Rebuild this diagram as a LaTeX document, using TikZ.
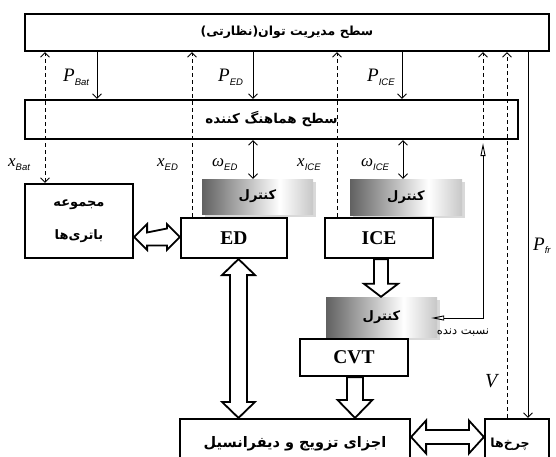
\documentclass[tikz,border=0pt]{standalone}
\usepackage{fontspec}
\setmainfont{Liberation Serif}
\newfontfamily\arabicfont[Script=Arabic]{DejaVu Sans}
\newfontfamily\subsans{Liberation Sans}
\TeXXeTstate=1
\usetikzlibrary{arrows.meta,shadows,calc}
\pgfdeclarehorizontalshading{ctrlshade}{100bp}{color(0bp)=(black!62); color(25bp)=(black!62); color(42bp)=(black!32); color(60bp)=(white); color(75bp)=(black!22); color(100bp)=(black!22)}
\newcommand{\fab}[2][12.5]{{\arabicfont\bfseries\fontsize{#1}{#1}\selectfont\beginR #2\endR}}
\newcommand{\fan}[2][11.5]{{\arabicfont\fontsize{#1}{#1}\selectfont\beginR #2\endR}}
\newcommand{\sym}[3][19]{{\fontsize{#1}{#1}\selectfont\itshape #2}{\subsans\itshape\fontsize{9.5}{9.5}\selectfont\raisebox{-0.4em}{#3}}}
\tikzset{
  box/.style={draw, line width=2.2pt, fill=white, inner sep=0pt},
  ctrl/.style={shade, shading=ctrlshade, drop shadow={shadow xshift=2.5pt, shadow yshift=-2.5pt, opacity=0.3}, inner sep=0pt},
  thinline/.style={line width=0.9pt},
  dsh/.style={line width=0.9pt, dash pattern=on 4pt off 3pt},
  blk/.style={draw, line width=1.8pt, fill=white, line join=miter},
  lab/.style={inner sep=0pt, anchor=base west},
  bigtxt/.style={font=\bfseries\fontsize{19.5}{19.5}\selectfont},
  otri/.style={line width=0.9pt, {Triangle[open,length=13pt,width=5pt]}-{Triangle[open,length=13pt,width=5pt]}}
}
\begin{document}
\begin{tikzpicture}[x=1pt,y=-1pt, >={Straight Barb[length=4.5pt,width=9pt]}]
\useasboundingbox (0,0) rectangle (556,457);
\begin{scope}
\clip (0,0) rectangle (556,457);
% main boxes
\node[box, minimum width=524pt, minimum height=37pt] (top) at (287,32.5) {\fab[12.5]{سطح مدیریت توان(نظارتی)}};
\node[box, minimum width=493pt, minimum height=39pt] (coord) at (271.5,119.5) {\fab[13.5]{سطح هماهنگ کننده}};
% controllers
\node[ctrl, minimum width=111pt, minimum height=35pt] (cED) at (257.5,196.5) {\raisebox{-3pt}{\fab[13]{کنترل}}};
\node[ctrl, minimum width=112pt, minimum height=36pt] (cICE) at (406,197) {\raisebox{-3pt}{\fab[13]{کنترل}}};
\node[ctrl, minimum width=111pt, minimum height=40pt] (cCVT) at (381.5,317) {\fab[13]{کنترل}};
% component boxes
\node[box, minimum width=108pt, minimum height=74pt, align=center, font=\fontsize{13}{14}\selectfont] (bat) at (79,221) {\fab[13]{مجموعه}\\[19pt]\fab[13]{باتری‌ها}};
\node[box, minimum width=106pt, minimum height=40pt, bigtxt] (ed) at (234,238) {ED};
\node[box, minimum width=108pt, minimum height=40pt, bigtxt] (ice) at (379,238) {ICE};
\node[box, minimum width=108pt, minimum height=37pt, bigtxt] (cvt) at (354,357.5) {CVT};
\node[box, minimum width=230pt, minimum height=50pt] (dist) at (295,444) {\fab[14.5]{اجزای تزویج و دیفرانسیل}};
\node[box, minimum width=64pt, minimum height=50pt] (wheels) at (517,444) {\hspace*{-14pt}\fab[12.5]{چرخ‌ها}};
% dashed feedback lines
\draw[dsh, <->] (45,0 |- bat.north) -- (45,0 |- top.south);
\draw[dsh, ->] (192,0 |- ed.north) -- (192,0 |- top.south);
\draw[dsh, ->] (337,0 |- ice.north) -- (337,0 |- top.south);
\draw[dsh, ->] (483,0 |- coord.south) -- (483,0 |- top.south);
\draw[dsh, ->] (507,0 |- wheels.north) -- (507,0 |- top.south);
% power commands
\draw[thinline, ->] (97,0 |- top.south) -- (97,0 |- coord.north);
\draw[thinline, ->] (253,0 |- top.south) -- (253,0 |- coord.north);
\draw[thinline, ->] (402,0 |- top.south) -- (402,0 |- coord.north);
\draw[thinline, ->] (528,0 |- top.south) -- (528,0 |- wheels.north);
% speed commands
\draw[thinline, <->] (253,0 |- coord.south) -- (253,0 |- cED.north);
\draw[thinline, <->] (403,0 |- coord.south) -- (403,0 |- cICE.north);
% gear ratio
\coordinate (gtop) at ($(483,0 |- coord.south)+(0,3)$);
\draw[otri] ($(cCVT.east)+(-6,1)$) -| (gtop);
% block arrows
\draw[blk] let \p1=(bat.east), \p2=(ed.west) in
  (\x1,237) -- ++(13,-13) -- ++(0,8.5) -- (\x2-13,228.5) -- ++(0,-4.5) -- (\x2,237) -- (\x2-13,250) -- ++(0,-4.5) -- (\x1+13,245.5) -- ++(0,4.5) -- cycle;
\draw[blk] let \p1=(dist.east), \p2=(wheels.west) in
  (\x1,437) -- (\x1+15,420.5) -- (\x1+15,430) -- (\x2-15,430) -- (\x2-15,420.5) -- (\x2,437) -- (\x2-15,453.5) -- (\x2-15,444) -- (\x1+15,444) -- (\x1+15,453.5) -- cycle;
\draw[blk] let \p1=(ed.south), \p2=(dist.north) in
  (238.5,\y1) -- (222,\y1-16) -- (230,\y1-16) -- (230,\y2+16) -- (222,\y2+16) -- (238.5,\y2) -- (255,\y2+16) -- (247,\y2+16) -- (247,\y1-16) -- (255,\y1-16) -- cycle;
\draw[blk] let \p1=(ice.south), \p2=(cCVT.north) in
  (374,\y1) -- (374,\y2+13) -- (364,\y2+13) -- (381,\y2) -- (398,\y2+13) -- (388,\y2+13) -- (388,\y1) -- cycle;
\draw[blk] let \p1=(cvt.south), \p2=(dist.north) in
  (347,\y1) -- (347,\y2+18) -- (337.5,\y2+18) -- (355,\y2) -- (372.5,\y2+18) -- (363,\y2+18) -- (363,\y1) -- cycle;
\end{scope}
% labels
\node[lab] at (63,82) {\sym{P}{Bat}};
\node[lab] at (218,82) {\sym{P}{ED}};
\node[lab] at (367,82) {\sym{P}{ICE}};
\node[lab] at (8,167) {\sym[17]{x}{Bat}};
\node[lab] at (157,167) {\sym[17]{x}{ED}};
\node[lab] at (297,167) {\sym[17]{x}{ICE}};
\node[lab] at (212,167) {\sym[17]{ω}{ED}};
\node[lab] at (361,167) {\sym[17]{ω}{ICE}};
\node[lab] at (485,387) {{\fontsize{20}{20}\selectfont\itshape V}};
\node[lab] at (533,250) {\sym{P}{fr}};
\node[inner sep=0pt] (gr) at (463,333) {\fan{نسبت دنده}};
\end{tikzpicture}
\end{document}
